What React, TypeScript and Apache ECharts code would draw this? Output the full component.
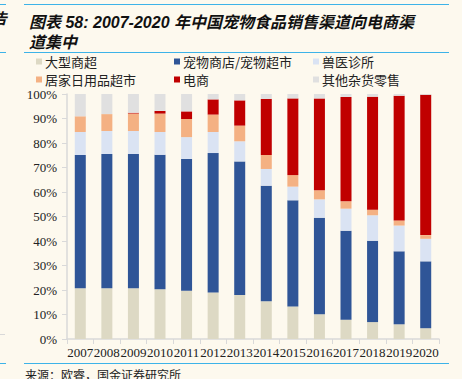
import React, { useEffect, useRef } from "react";
import * as echarts from "echarts";

const years = ["2007","2008","2009","2010","2011","2012","2013","2014","2015","2016","2017","2018","2019","2020"];
const seriesNames = ["大型商超", "宠物商店/宠物超市", "兽医诊所", "居家日用品超市", "电商", "其他杂货零售"];
const supermarket = [20.7,20.7,20.7,20.3,19.7,19.0,18.0,15.4,13.3,10.1,7.9,6.9,6.0,4.4];
const petStore = [54.4,54.8,54.8,54.9,53.8,56.9,54.5,47.2,43.3,39.4,36.3,33.2,29.8,27.3];
const vet = [9.4,9.4,9.4,9.3,8.9,8.6,8.2,6.8,5.6,7.5,9.0,10.4,10.5,9.2];
const household = [6.4,6.9,7.1,7.5,7.4,7.1,6.4,5.7,4.7,3.7,3.0,2.3,2.1,1.5];
const ecommerce = [0,0,0.3,1.1,3.1,6.2,10.3,22.9,31.3,37.5,42.6,46.1,50.9,57.3];
const others = [9.1,8.2,7.7,6.9,7.1,2.2,2.6,2.0,1.8,1.8,1.2,1.1,0.7,0.3];
const yTicks = { min: 0, max: 100, interval: 10 };

const colors = ["#DDD9C4", "#2F5597", "#DAE3F3", "#F4B183", "#C00000", "#E0E0E0"];
const values = [supermarket, petStore, vet, household, ecommerce, others];

const legendPos = [
  { left: 36, top: 55 },
  { left: 174, top: 55 },
  { left: 313, top: 55 },
  { left: 36, top: 73 },
  { left: 174, top: 73 },
  { left: 313, top: 73 },
];

export default function App() {
  const ref = useRef<HTMLDivElement>(null);
  useEffect(() => {
    if (!ref.current) return;
    const chart = echarts.init(ref.current, null, { renderer: "svg" });
    const cjk = "'Noto Sans CJK SC', sans-serif";
    const lineColor = "#3DB3E8";
    chart.setOption({
      animation: false,
      backgroundColor: "#FDF9EE",
      title: {
        text: "图表 58: 2007-2020 年中国宠物食品销售渠道向电商渠\n道集中",
        left: 24,
        top: 7,
        textStyle: {
          fontFamily: "'Liberation Sans', 'Noto Sans CJK SC', sans-serif",
          fontStyle: "italic",
          fontWeight: "bold",
          fontSize: 16,
          lineHeight: 20,
          color: "#111",
        },
      },
      legend: seriesNames.map((name, i) => ({
        data: [name],
        left: legendPos[i].left,
        top: legendPos[i].top,
        icon: "rect",
        itemWidth: 6,
        itemHeight: 6,
        itemGap: 4,
        padding: 0,
        textStyle: { fontFamily: cjk, fontSize: 13, lineHeight: 13, color: "#222", padding: [0, 0, 0, -2] },
      })),
      grid: { left: 67, right: 23, top: 94, bottom: 40, containLabel: false },
      xAxis: {
        type: "category",
        data: years,
        axisLine: { lineStyle: { color: "#D9D9D9", width: 1.5 } },
        axisTick: { show: true, length: 5, lineStyle: { color: "#D9D9D9" } },
        axisLabel: { fontFamily: "'Liberation Serif', serif", fontSize: 13, color: "#222", margin: 7, interval: 0 },
      },
      yAxis: {
        type: "value",
        min: yTicks.min,
        max: yTicks.max,
        interval: yTicks.interval,
        splitLine: { show: false },
        axisLine: { show: true, lineStyle: { color: "#D9D9D9", width: 1.5 } },
        axisTick: { show: true, length: 5, lineStyle: { color: "#D9D9D9" } },
        axisLabel: { formatter: "{value}%", fontFamily: "'Liberation Serif', serif", fontSize: 13, color: "#222", margin: 10 },
      },
      series: seriesNames.map((name, i) => ({
        name,
        type: "bar",
        stack: "total",
        barWidth: 11,
        data: values[i],
        itemStyle: { color: colors[i] },
      })),
      graphic: [
        { type: "line", shape: { x1: 24, y1: 4.5, x2: 449, y2: 4.5 }, style: { stroke: lineColor, lineWidth: 1 } },
        { type: "line", shape: { x1: 0, y1: 4.5, x2: 6, y2: 4.5 }, style: { stroke: lineColor, lineWidth: 1 } },
        { type: "line", shape: { x1: 24, y1: 52.5, x2: 449, y2: 52.5 }, style: { stroke: lineColor, lineWidth: 1 } },
        { type: "line", shape: { x1: 0, y1: 52.5, x2: 6, y2: 52.5 }, style: { stroke: lineColor, lineWidth: 1 } },
        { type: "line", shape: { x1: 24, y1: 363.5, x2: 449, y2: 363.5 }, style: { stroke: lineColor, lineWidth: 1 } },
        { type: "line", shape: { x1: 0, y1: 363.5, x2: 6, y2: 363.5 }, style: { stroke: lineColor, lineWidth: 1 } },
        { type: "line", shape: { x1: 0, y1: 334.5, x2: 5, y2: 334.5 }, style: { stroke: "#D9D9D9", lineWidth: 1 } },
        {
          type: "text",
          x: -8,
          y: 10,
          style: { text: "告", fontFamily: cjk, fontStyle: "italic", fontWeight: "bold", fontSize: 15, fill: "#111" },
        },
        {
          type: "text",
          x: 25,
          y: 368,
          style: { text: "来源：欧睿，国金证券研究所", fontFamily: cjk, fontSize: 12, fill: "#222" },
        },
      ],
    });
    return () => chart.dispose();
  }, []);
  return <div ref={ref} style={{ position: "fixed", left: 0, top: 0, width: 462, height: 379 }} />;
}
